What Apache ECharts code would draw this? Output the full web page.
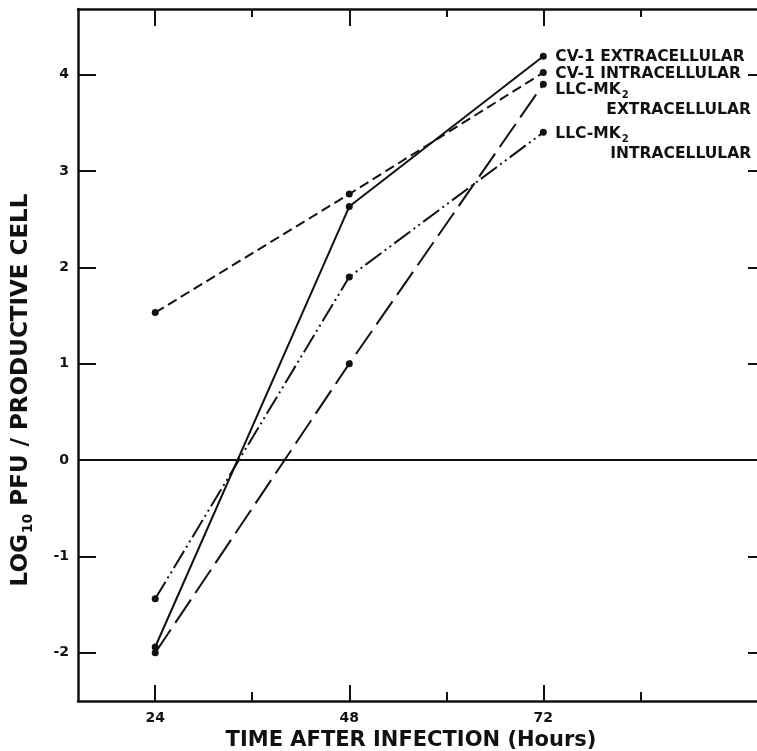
<!DOCTYPE html>
<html>
<head>
<meta charset="utf-8">
<script src="https://cdn.jsdelivr.net/npm/echarts@6/dist/echarts.min.js"></script>
<style>
  html, body { margin: 0; padding: 0; background: #fff; }
  #chart { width: 757px; height: 751px; }
</style>
</head>
<body>
<div id="chart"></div>
<script>
  // hours after infection
  let hours = [24, 48, 72]
  // log10 PFU / productive cell
  let cv1Extra = [-1.94, 2.63, 4.19]
  let cv1Intra = [1.53, 2.76, 4.02]
  let llcExtra = [-2.0, 1.0, 3.9]
  let llcIntra = [-1.44, 1.9, 3.4]

  let xMajorTicks = [24, 48, 72]
  let xMinorTicks = [36, 60, 84]
  let yTicks = [-2, -1, 0, 1, 2, 3, 4]

  let ink = '#111'
  let font = 'DejaVu Sans'

  function pairs(vals) {
    return hours.map((h, i) => [h, vals[i]])
  }

  let labelRich = {
    t: { fontFamily: font, fontWeight: 'bold', fontSize: 15.5, color: ink, lineHeight: 20 },
    s: { fontFamily: font, fontWeight: 'bold', fontSize: 10, color: ink, lineHeight: 20, padding: [10, 0, 0, 1] },
    e: { fontFamily: font, fontWeight: 'bold', fontSize: 15.5, color: ink, lineHeight: 20, padding: [0, 0, 0, 51] },
    i: { fontFamily: font, fontWeight: 'bold', fontSize: 15.5, color: ink, lineHeight: 20, padding: [0, 0, 0, 55] }
  }

  function makeSeries(name, vals, dash, text, offset) {
    return {
      name: name,
      type: 'line',
      data: pairs(vals),
      symbol: 'circle',
      symbolSize: 7,
      itemStyle: { color: ink },
      lineStyle: { color: ink, width: 2, type: dash },
      endLabel: {
        show: true,
        formatter: text,
        distance: 12,
        offset: offset,
        rich: labelRich
      }
    }
  }

  let series = [
    makeSeries('CV-1 Extracellular', cv1Extra, 'solid', '{t|CV-1 EXTRACELLULAR}', [0, 1]),
    makeSeries('CV-1 Intracellular', cv1Intra, [10, 5], '{t|CV-1 INTRACELLULAR}', [0, 1]),
    makeSeries('LLC-MK2 Extracellular', llcExtra, [28, 8], '{t|LLC-MK}{s|2}\n{e|EXTRACELLULAR}', [0, 16]),
    makeSeries('LLC-MK2 Intracellular', llcIntra, [20, 4, 2, 4, 2, 4], '{t|LLC-MK}{s|2}\n{i|INTRACELLULAR}', [0, 12])
  ]
  series[0].markLine = {
    silent: true,
    symbol: 'none',
    label: { show: false },
    lineStyle: { color: ink, width: 2, type: 'solid' },
    data: [{ yAxis: 0 }]
  }

  let frameLine = { show: true, onZero: false, lineStyle: { color: ink, width: 2.5 } }
  let noLine = { show: false, onZero: false }
  let tickLabel = { fontFamily: font, fontWeight: 'bold', fontSize: 14, color: ink }

  function xAxisOf(pos, ticks, len, withLine, withLabel) {
    return {
      type: 'value',
      position: pos,
      min: 14.45,
      max: 98.8,
      axisLine: withLine ? frameLine : noLine,
      axisTick: { show: true, inside: true, length: len, customValues: ticks, lineStyle: { color: ink, width: 2 } },
      axisLabel: withLabel ? Object.assign({ customValues: xMajorTicks, margin: 10 }, tickLabel) : { show: false },
      splitLine: { show: false }
    }
  }

  let xBottom = xAxisOf('bottom', xMajorTicks, 16, true, true)
  xBottom.name = 'TIME AFTER INFECTION (Hours)'
  xBottom.nameLocation = 'middle'
  xBottom.nameGap = 27
  xBottom.nameTextStyle = { fontFamily: font, fontWeight: 'bold', fontSize: 21, color: ink, padding: [0, 16, 0, 0] }

  let option = {
    animation: false,
    backgroundColor: '#fff',
    grid: { left: 78, top: 9, right: -3, bottom: 50, containLabel: false, outerBoundsMode: 'none' },
    xAxis: [
      xBottom,
      xAxisOf('bottom', xMinorTicks, 9, false, false),
      xAxisOf('top', xMajorTicks, 17, true, false),
      xAxisOf('top', xMinorTicks, 8, false, false)
    ],
    yAxis: [{
      type: 'value',
      position: 'left',
      min: -2.5,
      max: 4.68,
      axisLine: frameLine,
      axisTick: { show: true, inside: true, length: 18, customValues: yTicks, lineStyle: { color: ink, width: 2 } },
      axisLabel: Object.assign({ customValues: yTicks, margin: 9 }, tickLabel),
      splitLine: { show: false },
      name: 'LOG{s|10} PFU / PRODUCTIVE CELL',
      nameLocation: 'middle',
      nameRotate: 90,
      nameGap: 43,
      nameTextStyle: {
        fontFamily: font, fontWeight: 'bold', fontSize: 23, color: ink, padding: [0, 70, 0, 0],
        rich: { s: { fontFamily: font, fontWeight: 'bold', fontSize: 14, color: ink, padding: [13, 0, 0, 1] } }
      }
    }, {
      type: 'value',
      position: 'right',
      min: -2.5,
      max: 4.68,
      axisLine: frameLine,
      axisTick: { show: true, inside: true, length: 12, customValues: yTicks, lineStyle: { color: ink, width: 2 } },
      axisLabel: { show: false },
      splitLine: { show: false }
    }],
    series: series
  }

  let myChart = echarts.init(document.getElementById('chart'))
  myChart.setOption(option)
</script>
</body>
</html>
